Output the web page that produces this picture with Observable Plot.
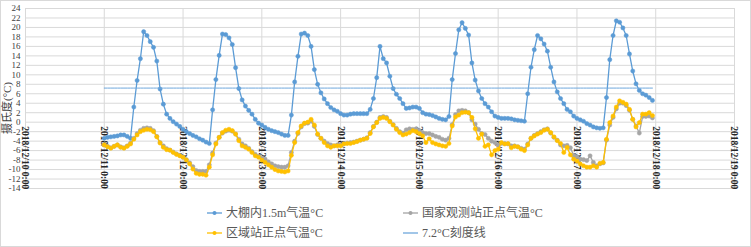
<!DOCTYPE html>
<html><head><meta charset="utf-8">
<script src="https://cdn.jsdelivr.net/npm/d3@7"></script>
<script src="https://cdn.jsdelivr.net/npm/@observablehq/plot@0.6"></script>
<style>
body{margin:0;background:#fff;}
#chart{position:relative;width:751px;height:247px;overflow:hidden;background:#fff;font-family:"Liberation Serif","Noto Sans CJK SC",serif;}
#frame{position:absolute;left:0;top:0;width:749px;height:245px;border:1px solid #d9d9d9;pointer-events:none;}
.leg{position:absolute;font-size:12px;color:#595959;display:flex;align-items:center;white-space:nowrap;line-height:14px;}
.leg svg{margin-right:4px;}
#ytitle{position:absolute;left:7px;top:108px;transform:translate(-50%,-50%) rotate(-90deg);font-size:11px;color:#404040;white-space:nowrap;line-height:12px;}
</style></head><body>
<div id="chart"><div id="frame"></div></div>
<script>
// ---- data ----
const seriesNames = ["大棚内1.5m气温°C", "国家观测站正点气温°C", "区域站正点气温°C", "7.2°C刻度线"];
const seriesColors = ["#5b9bd5", "#a5a5a5", "#ffc000", "#6fa8dc"];
const startUTC = [2018, 11, 11]; // 2018/12/11 0:00, hourly data
const refLevel = 7.2;
const yTicks = [-14,-12,-10,-8,-6,-4,-2,0,2,4,6,8,10,12,14,16,18,20,22,24];
const dayTickDays = [10,11,12,13,14,15,16,17,18,19]; // 2018/12/xx 0:00
const yTitle = "摄氏度(°C)";

const blue = [
 -3.4,-3.2,-3.1,-3.0,-2.9,-2.7,-2.7,-3.0,-3.4,3.2,8.8,13.4,19.1,18.3,17.0,15.8,12.9,7.0,3.8,1.7,0.8,0.1,-0.4,-0.9,
 -1.5,-2.0,-2.4,-2.8,-3.1,-3.5,-3.8,-4.2,-4.5,2.6,9.0,14.1,18.6,18.5,17.8,16.4,11.5,7.1,4.7,3.4,2.5,1.7,0.6,-0.2,
 -0.6,-1.1,-1.5,-1.8,-2.0,-2.2,-2.5,-2.8,-2.8,1.5,8.5,13.9,18.6,18.8,18.3,16.0,11.1,8.0,6.2,4.9,3.9,3.1,2.6,2.3,
 1.8,1.5,1.5,1.7,1.8,1.8,1.8,1.8,1.8,2.7,5.0,9.4,16.0,13.4,12.5,9.7,7.1,5.9,5.0,3.9,2.9,3.0,3.2,3.2,
 2.9,2.0,1.7,1.6,1.4,1.1,0.8,0.6,0.5,1.2,9.0,14.5,19.5,21.0,19.8,18.4,12.5,8.9,6.6,5.0,3.9,3.2,2.2,1.3,
 1.0,0.8,0.8,0.8,0.7,0.5,0.4,0.3,0.2,6.0,11.6,15.3,18.3,17.6,16.5,15.0,11.6,8.5,6.4,5.0,3.9,2.7,2.2,1.3,
 0.8,0.5,0.2,-0.3,-0.6,-1.0,-1.2,-1.3,-1.2,5.2,13.2,18.3,21.4,21.1,19.9,18.3,14.4,10.8,8.1,6.7,6.0,5.7,5.2,4.6
];
const gray = [
 -4.8,-5.1,-5.4,-5.1,-4.8,-5.2,-5.4,-5.0,-4.4,-3.4,-2.4,-1.7,-1.3,-1.2,-1.3,-1.8,-3.0,-4.3,-5.0,-5.6,-5.9,-6.3,-6.7,-7.0,
 -7.4,-7.9,-8.6,-9.4,-10.2,-10.4,-10.4,-10.4,-9.0,-6.5,-4.4,-3.2,-2.3,-1.9,-1.7,-1.9,-2.5,-3.6,-4.6,-5.0,-5.5,-6.2,-6.8,-7.2,
 -7.6,-7.8,-8.4,-8.8,-9.2,-9.4,-9.5,-9.5,-9.2,-6.4,-4.0,-2.4,-1.0,-0.3,-0.2,0.2,-0.9,-2.6,-3.4,-4.0,-4.5,-4.8,-5.0,-4.8,
 -4.8,-4.5,-4.4,-4.3,-4.2,-4.0,-3.8,-3.6,-3.3,-2.2,-0.9,0.0,1.0,1.2,1.0,0.2,-0.5,-1.3,-2.0,-2.3,-1.6,-1.4,-1.5,-1.4,
 -1.8,-2.2,-2.4,-2.4,-2.7,-3.0,-3.2,-3.6,-3.8,-3.4,-0.5,1.6,2.4,2.5,2.4,2.0,0.5,-0.4,-1.5,-2.4,-2.6,-3.4,-4.0,-4.3,
 -4.8,-4.5,-4.5,-4.6,-5.0,-5.0,-5.2,-5.5,-5.7,-4.6,-3.4,-2.8,-2.4,-2.0,-1.6,-1.4,-2.3,-3.2,-3.8,-4.8,-5.0,-4.9,-5.4,-7.0,
 -7.3,-7.8,-7.9,-8.1,-7.1,-8.5,-9.2,-8.8,-8.6,-3.8,-0.6,1.0,2.8,4.0,4.0,3.5,2.5,0.6,-0.8,-2.3,1.2,1.2,1.3,0.9
];
const yellow = [
 -4.8,-5.2,-5.5,-5.1,-4.8,-5.3,-5.5,-5.1,-4.6,-3.6,-2.7,-2.0,-1.7,-1.5,-1.6,-2.0,-3.1,-4.4,-5.3,-5.8,-5.9,-6.4,-6.8,-7.1,
 -7.4,-8.0,-8.8,-9.9,-10.8,-11.0,-11.0,-11.2,-9.5,-6.9,-4.6,-3.2,-2.2,-1.7,-1.5,-1.8,-2.5,-3.9,-5.0,-5.3,-5.7,-6.4,-7.1,-7.4,
 -8.0,-8.5,-9.0,-9.5,-10.0,-10.3,-10.4,-10.5,-10.3,-7.0,-4.3,-2.2,-0.8,-0.2,0.0,0.6,-0.6,-2.5,-3.4,-4.3,-5.0,-5.3,-5.0,-5.0,
 -5.0,-4.6,-4.5,-4.5,-4.3,-4.1,-3.8,-3.6,-3.4,-2.4,-1.0,-0.1,0.8,1.0,0.8,0.1,-0.6,-1.5,-2.2,-2.7,-2.5,-2.2,-1.8,-2.0,
 -2.4,-2.9,-4.3,-3.5,-4.3,-4.6,-4.8,-5.0,-5.1,-4.5,-0.8,1.1,1.5,2.0,2.1,2.0,1.0,-1.4,-3.4,-2.5,-5.1,-4.8,-6.9,-6.0,
 -5.7,-4.3,-4.6,-4.5,-5.4,-5.1,-5.2,-5.7,-6.0,-4.8,-3.4,-2.9,-2.5,-2.2,-1.7,-1.5,-2.2,-3.1,-3.9,-4.5,-6.4,-5.3,-6.9,-7.8,
 -8.2,-8.8,-9.2,-9.5,-9.5,-9.2,-9.5,-8.7,-8.5,-3.6,-0.1,1.3,3.2,4.5,4.2,3.8,2.7,0.6,-1.0,-0.1,1.7,1.7,2.0,1.4
];

// ---- build tables ----
const t0 = Date.UTC(startUTC[0], startUTC[1], startUTC[2]);
const hour = 3600000;
const toRows = (arr) => arr.map((v, i) => ({t: new Date(t0 + i * hour), v}));
const blueRows = toRows(blue), grayRows = toRows(gray), yellowRows = toRows(yellow);
const refRows = blue.map((_, i) => ({t: new Date(t0 + i * hour), v: refLevel}));
const dayTicks = dayTickDays.map(d => new Date(Date.UTC(2018, 11, d)));
const fmt = d => `${d.getUTCFullYear()}/${d.getUTCMonth() + 1}/${d.getUTCDate()} 0:00`;

const lineOpts = (c) => ({x: "t", y: "v", stroke: c, strokeWidth: 1.3});
const dotOpts = (c) => ({x: "t", y: "v", fill: c, stroke: c, strokeWidth: 0.5, r: 2.1});

const plot = Plot.plot({
  width: 751, height: 196,
  marginLeft: 25, marginRight: 17, marginTop: 8, marginBottom: 8,
  style: {fontFamily: '"Liberation Serif","Noto Sans CJK SC",serif', background: "transparent"},
  x: {type: "utc", domain: [dayTicks[0], dayTicks[dayTicks.length - 1]], axis: null},
  y: {domain: [-14, 24], axis: null},
  marks: [
    Plot.gridY(yTicks, {stroke: "#d9d9d9", strokeOpacity: 1, strokeWidth: 1}),
    Plot.gridX(dayTicks, {stroke: "#d9d9d9", strokeOpacity: 1, strokeWidth: 1}),
    Plot.axisY(yTicks, {tickSize: 0, tickPadding: 5, fontSize: 9, fill: "#404040", label: null, tickFormat: d => String(d)}),
    Plot.text(dayTicks, {x: d => d, y: () => 0, text: fmt, rotate: 90, textAnchor: "start", lineAnchor: "middle", dy: 4, fontSize: 9.5, fontWeight: "bold", fill: "#262626"}),
    Plot.line(blueRows, lineOpts(seriesColors[0])),
    Plot.dot(blueRows, dotOpts(seriesColors[0])),
    Plot.line(grayRows, lineOpts(seriesColors[1])),
    Plot.dot(grayRows, dotOpts(seriesColors[1])),
    Plot.line(yellowRows, lineOpts(seriesColors[2])),
    Plot.dot(yellowRows, dotOpts(seriesColors[2])),
    Plot.line(refRows, {x: "t", y: "v", stroke: seriesColors[3], strokeWidth: 1})
  ]
});
plot.style.position = "absolute";
plot.style.left = "0px";
plot.style.top = "0px";
const chart = document.getElementById("chart");
chart.appendChild(plot);

// ---- y-axis title ----
const yt = document.createElement("div");
yt.id = "ytitle";
yt.textContent = yTitle;
chart.appendChild(yt);

// ---- legend ----
const legendPos = [[207, 213], [403, 213], [207, 233], [403, 233]];
seriesNames.forEach((name, i) => {
  const div = document.createElement("div");
  div.className = "leg";
  div.style.left = legendPos[i][0] + "px";
  div.style.top = (legendPos[i][1] - 7) + "px";
  const marker = i < 3
    ? `<svg width="15" height="8"><line x1="0" y1="4" x2="15" y2="4" stroke="${seriesColors[i]}" stroke-width="1.3"/><circle cx="7.5" cy="4" r="2" fill="${seriesColors[i]}"/></svg>`
    : `<svg width="15" height="8"><line x1="0" y1="4" x2="15" y2="4" stroke="${seriesColors[i]}" stroke-width="1.3"/></svg>`;
  div.innerHTML = marker + `<span>${name}</span>`;
  chart.appendChild(div);
});
</script>
</body></html>
